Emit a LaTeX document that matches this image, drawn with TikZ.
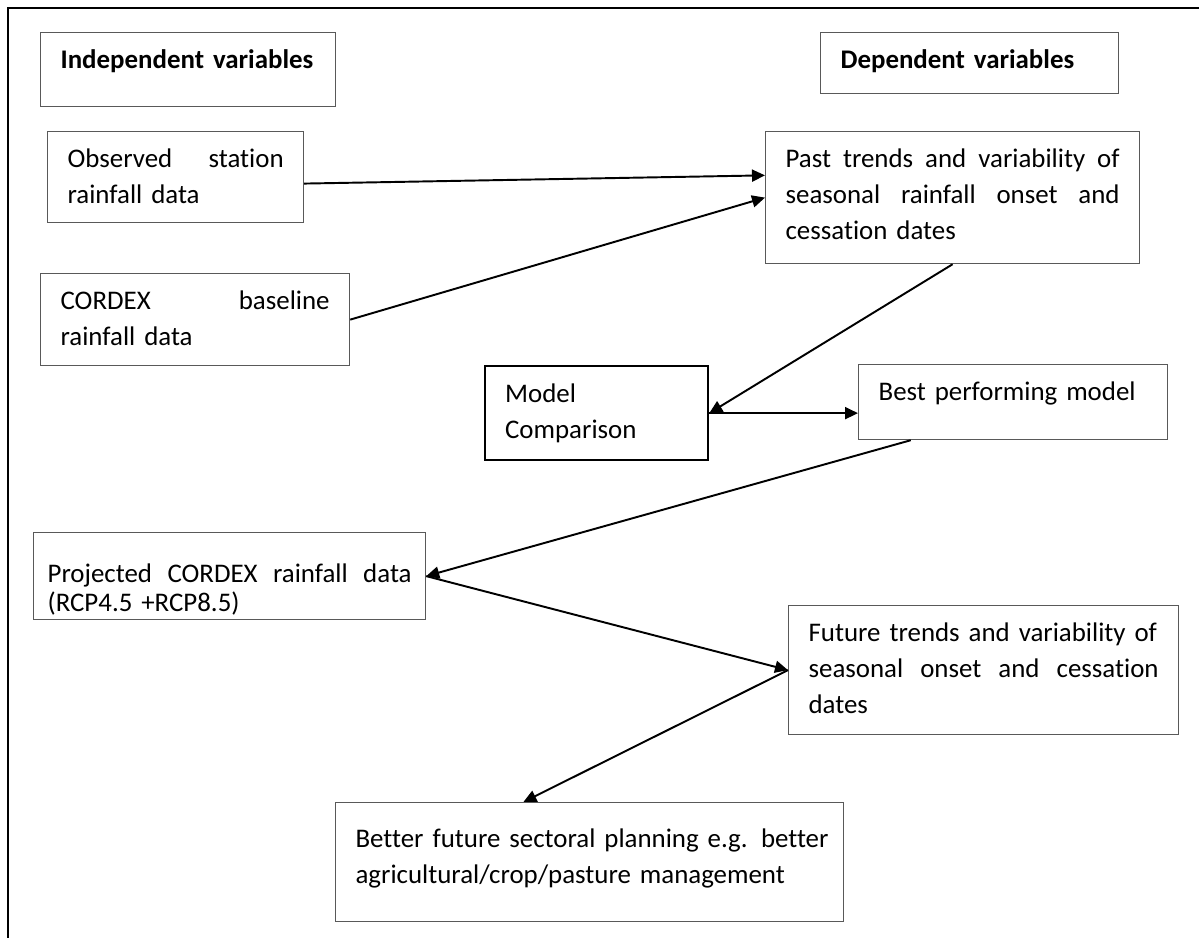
\documentclass[tikz,border=0pt]{standalone}
\usepackage{fontspec}
\usepackage{tikz}
\usetikzlibrary{calc,arrows.meta}
\newfontfamily\calibri[Ligatures=NoCommon]{Carlito}

\tikzset{
  varbox/.style={draw=black!65, line width=0.7pt, anchor=north west, inner xsep=0.4cm, inner ysep=0pt,
    align=left, text height=0.72cm, font=\calibri\fontsize{15.3}{20.5}\selectfont},
  headbox/.style={varbox, font=\calibri\bfseries\fontsize{15.3}{20.5}\selectfont},
  conn/.style={line width=1.1pt, -{Triangle[length=0.26cm, width=0.24cm]}},
}

\begin{document}
\begin{tikzpicture}
			%%%%% START %%%%%
			\useasboundingbox (0,0) rectangle (23.98,-18.76);
			
			\draw[line width=0.8pt] (0.16,-18.76) -- (0.16,-0.16) -- (23.98,-0.16);
			
			\node[headbox, text width=5.10cm, text depth=0.76cm] (indep) at (0.80,-0.64) {Independent variables};
			\node[headbox, text width=5.16cm, text depth=0.50cm] (dep) at (16.40,-0.64) {Dependent variables};
			
			\node[varbox, text width=4.32cm, text depth=1.10cm] (obs) at (0.94,-2.62) {Observed\hfill station\\rainfall data};
			\node[varbox, text width=5.38cm, text depth=1.12cm] (cordex) at (0.80,-5.46) {CORDEX\hfill baseline\\rainfall data};
			\node[varbox, text width=6.68cm, text depth=1.92cm] (past) at (15.30,-2.62)
				{Past\hfill trends\hfill and\hfill variability\hfill of\\seasonal\hfill rainfall\hfill onset\hfill and\\cessation dates};
			
			\node[varbox, draw=black, line width=1.3pt, text width=3.66cm, text depth=1.16cm] (model) at (9.68,-7.30) {Model\\Comparison};
			\node[varbox, text width=5.38cm, text depth=0.78cm] (best) at (17.16,-7.28) {Best performing model};
			
			\node[varbox, inner xsep=0.28cm, text width=7.28cm, text height=1.0cm, text depth=0.74cm] (proj) at (0.66,-10.64)
				{Projected\hfill CORDEX\hfill rainfall\hfill data\\[-0.14cm](RCP4.5 +RCP8.5)};
			\node[varbox, text width=7.00cm, text depth=1.86cm] (future) at (15.76,-12.10)
				{Future trends and variability of\\seasonal\hfill onset\hfill and\hfill cessation\\dates};
			\node[varbox, text width=9.36cm, text height=0.90cm, text depth=1.48cm] (better) at (6.70,-16.04)
				{\mbox{Better future sectoral planning e.g. better}\\agricultural/crop/pasture management};
			
			\draw[conn] ($(obs.south east)!0.43!(obs.north east)$) -- ($(past.south west)!0.667!(past.north west)$);
			\draw[conn] (cordex.east) -- (past.west);
			\draw[conn] (past.south) -- (model.east);
			\draw[conn] (model.east) -- (model.east -| best.west);
			\draw[conn] ($(best.south west)!0.17!(best.south east)$) -- (proj.east);
			\draw[conn] (proj.east) -- (future.west);
			\draw[conn] (future.west) -- ($(better.north west)!0.37!(better.north east)$);
			
			%%%%% END %%%%%
\end{tikzpicture}
\end{document}
